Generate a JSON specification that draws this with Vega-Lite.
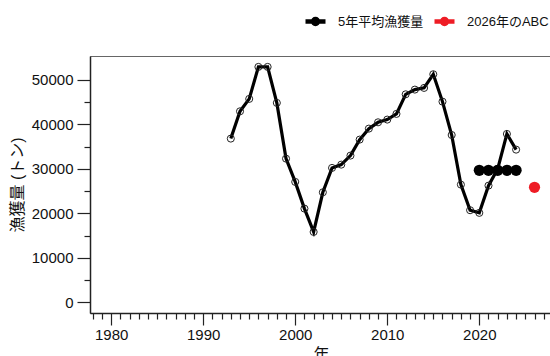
{
  "$schema": "https://vega.github.io/schema/vega-lite/v6.json",
  "autosize": "none",
  "width": 462,
  "height": 257,
  "padding": {"left": 90, "top": 56, "right": 0, "bottom": 43},
  "background": "white",
  "config": {
    "view": {"stroke": "#666666", "strokeWidth": 1},
    "axis": {
      "domainColor": "#222222",
      "domainWidth": 1.5,
      "tickColor": "#222222",
      "tickWidth": 1.2,
      "labelFont": "Liberation Sans",
      "labelFontSize": 15,
      "labelColor": "#111111",
      "titleFont": "Liberation Sans, Noto Sans CJK JP",
      "titleFontSize": 16,
      "titleFontWeight": "normal",
      "titleColor": "#111111",
      "grid": false
    }
  },
  "datasets": {
    "catch": [
      {"year": 1993, "value": 36790},
      {"year": 1994, "value": 42920},
      {"year": 1995, "value": 45710},
      {"year": 1996, "value": 52900},
      {"year": 1997, "value": 52900},
      {"year": 1998, "value": 44810},
      {"year": 1999, "value": 32290},
      {"year": 2000, "value": 27060},
      {"year": 2001, "value": 21060},
      {"year": 2002, "value": 15820},
      {"year": 2003, "value": 24720},
      {"year": 2004, "value": 30200},
      {"year": 2005, "value": 30940},
      {"year": 2006, "value": 32970},
      {"year": 2007, "value": 36560},
      {"year": 2008, "value": 39030},
      {"year": 2009, "value": 40450},
      {"year": 2010, "value": 41060},
      {"year": 2011, "value": 42340},
      {"year": 2012, "value": 46740},
      {"year": 2013, "value": 47800},
      {"year": 2014, "value": 48180},
      {"year": 2015, "value": 51250},
      {"year": 2016, "value": 45100},
      {"year": 2017, "value": 37600},
      {"year": 2018, "value": 26450},
      {"year": 2019, "value": 20700},
      {"year": 2020, "value": 20100},
      {"year": 2021, "value": 26220},
      {"year": 2022, "value": 30000},
      {"year": 2023, "value": 37840},
      {"year": 2024, "value": 34310}
    ],
    "avg": [
      {"year": 2020, "value": 29660, "series": "5年平均漁獲量"},
      {"year": 2021, "value": 29660, "series": "5年平均漁獲量"},
      {"year": 2022, "value": 29660, "series": "5年平均漁獲量"},
      {"year": 2023, "value": 29660, "series": "5年平均漁獲量"},
      {"year": 2024, "value": 29660, "series": "5年平均漁獲量"}
    ],
    "abc": [
      {"year": 2026, "value": 25840, "series": "2026年のABC"}
    ]
  },
  "encoding": {
    "x": {
      "field": "year",
      "type": "quantitative",
      "scale": {"domain": [1977.7, 2027.9], "nice": false, "zero": false},
      "axis": {
        "title": "年",
        "titlePadding": 4,
        "values": [1978,1979,1980,1981,1982,1983,1984,1985,1986,1987,1988,1989,1990,1991,1992,1993,1994,1995,1996,1997,1998,1999,2000,2001,2002,2003,2004,2005,2006,2007,2008,2009,2010,2011,2012,2013,2014,2015,2016,2017,2018,2019,2020,2021,2022,2023,2024,2025,2026,2027],
        "labelExpr": "datum.value % 10 === 0 ? datum.label : ''",
        "format": "d",
        "labelOverlap": false,
        "labelPadding": 2,
        "tickSize": {"condition": {"test": "datum.value % 10 === 0", "value": 12}, "value": 6}
      }
    },
    "y": {
      "field": "value",
      "type": "quantitative",
      "scale": {"domain": [-2400, 55350], "nice": false, "zero": false},
      "axis": {
        "title": "漁獲量 (トン)",
        "titlePadding": 6,
        "values": [0,5000,10000,15000,20000,25000,30000,35000,40000,45000,50000],
        "labelExpr": "datum.value % 10000 === 0 ? datum.label : ''",
        "format": "d",
        "labelOverlap": false,
        "labelPadding": 4,
        "tickSize": {"condition": {"test": "datum.value % 10000 === 0", "value": 13}, "value": 6}
      }
    }
  },
  "layer": [
    {
      "data": {"name": "catch"},
      "mark": {"type": "line", "color": "black", "strokeWidth": 3.2}
    },
    {
      "data": {"name": "catch"},
      "mark": {"type": "point", "shape": "circle", "filled": false, "stroke": "#222222", "strokeWidth": 1, "size": 50, "opacity": 1}
    },
    {
      "data": {"name": "avg"},
      "mark": {"type": "line", "strokeWidth": 3},
      "encoding": {
        "color": {"field": "series", "type": "nominal", "scale": {"domain": ["5年平均漁獲量", "2026年のABC"], "range": ["#000000", "#ee1c25"]}}
      }
    },
    {
      "data": {"name": "avg"},
      "mark": {"type": "point", "shape": "circle", "filled": true, "size": 125, "opacity": 1},
      "encoding": {
        "color": {
          "field": "series",
          "type": "nominal",
          "scale": {"domain": ["5年平均漁獲量", "2026年のABC"], "range": ["#000000", "#ee1c25"]},
          "legend": {
            "title": null,
            "orient": "none",
            "legendX": 213,
            "legendY": -47,
            "direction": "horizontal",
            "labelFont": "Liberation Sans, Noto Sans CJK JP",
            "labelFontSize": 13,
            "labelColor": "#111111",
            "labelOffset": 10,
            "columnPadding": 1,
            "symbolType": "M-1,0L1,0M-0.25,0A0.25,0.25,0,1,1,0.25,0A0.25,0.25,0,1,1,-0.25,0Z",
            "symbolSize": 400,
            "symbolStrokeWidth": 4.5,
            "symbolOpacity": 1,
            "encode": {
              "symbols": {"update": {"stroke": {"scale": "color", "field": "value"}, "fill": {"scale": "color", "field": "value"}, "strokeWidth": {"value": 4.5}}}
            }
          }
        }
      }
    },
    {
      "data": {"name": "abc"},
      "mark": {"type": "point", "shape": "circle", "filled": true, "size": 125, "opacity": 1},
      "encoding": {
        "color": {"field": "series", "type": "nominal", "scale": {"domain": ["5年平均漁獲量", "2026年のABC"], "range": ["#000000", "#ee1c25"]}}
      }
    }
  ]
}
